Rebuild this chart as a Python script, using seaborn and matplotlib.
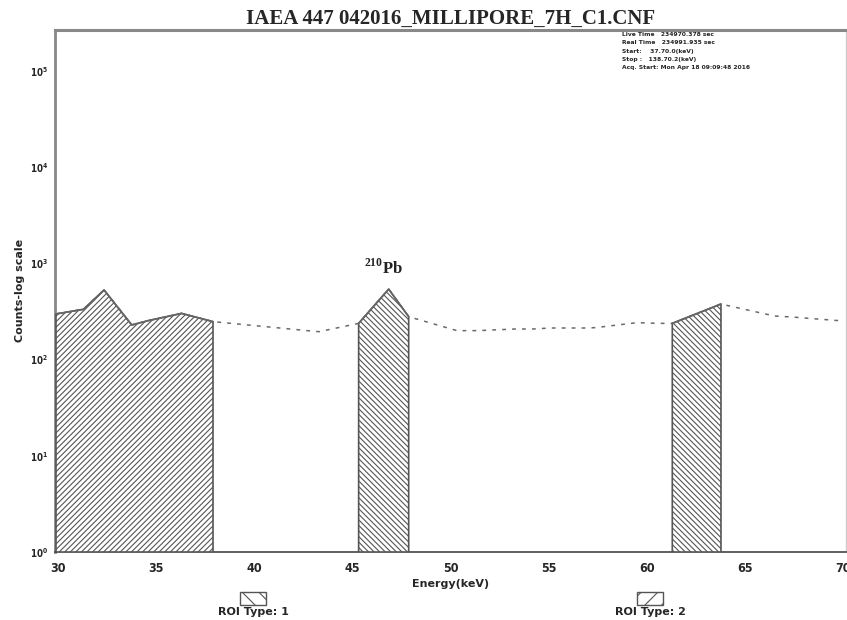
import numpy as np
import pandas as pd
import matplotlib
matplotlib.use("Agg")
import matplotlib.pyplot as plt
from matplotlib.patches import Rectangle
import seaborn as sns

# ---- data ----
energy = [29.9, 31.3, 32.35, 33.76, 34.6, 36.3, 37.9,
          42.7, 43.3, 45.32, 46.85, 47.87,
          50.33, 51.4, 53.3, 54.2, 55.1, 57.0, 57.4, 59.5, 60.6, 61.3,
          63.78, 66.5, 67.6, 68.5, 69.9]
counts = [298, 333, 529, 229, 254, 302, 248,
          200, 195, 238, 540, 279,
          200, 200, 208, 208, 213, 213, 215, 242, 238, 238,
          378, 284, 275, 266, 253]
roi_lo = [29.9, 45.32, 61.3]
roi_hi = [37.9, 47.87, 63.78]
roi_type = [2, 1, 1]
roi_hatch = {1: "\\" * 6, 2: "/" * 6}
title = "IAEA 447 042016_MILLIPORE_7H_C1.CNF"
info_lines = ["Live Time   234970.378 sec",
              "Real Time   234991.935 sec",
              "Start:    37.70.0(keV)",
              "Stop :   138.70.2(keV)",
              "Acq. Start: Mon Apr 18 09:09:48 2016"]
xticks = [30, 35, 40, 45, 50, 55, 60, 65, 70]
yticks = [1, 10, 100, 1000, 10000, 100000]
legend_labels = ["ROI Type: 1", "ROI Type: 2"]

sns.set_style("white")
plt.rcParams["font.family"] = ["DejaVu Sans"]
plt.rcParams["hatch.color"] = "#5a5a5a"
plt.rcParams["hatch.linewidth"] = 0.8
plt.rcParams["mathtext.fontset"] = "custom"
plt.rcParams["mathtext.bf"] = "Liberation Serif:bold"
plt.rcParams["mathtext.rm"] = "Liberation Serif:bold"

df = pd.DataFrame({"energy": energy, "counts": counts})

fig = plt.figure(figsize=(8.47, 6.2), dpi=100)
ax = fig.add_axes([55 / 847, 1 - 552 / 620, (846 - 55) / 847, (552 - 30) / 620])

sns.lineplot(data=df, x="energy", y="counts", ax=ax, color="#6a6a6a",
             linewidth=1.1, linestyle=(0, (2.5, 4)), sort=True, legend=False)

x = np.array(energy)
y = np.array(counts)
for lo, hi, t in zip(roi_lo, roi_hi, roi_type):
    m = (x >= lo - 1e-9) & (x <= hi + 1e-9)
    ax.fill_between(x[m], 1, y[m], facecolor="white", edgecolor="#555555",
                    hatch=roi_hatch[t], linewidth=1.2, zorder=3)
    ax.plot(x[m], y[m], color="#666666", lw=1.2, zorder=4)

ax.set_yscale("log")
ax.set_xlim(29.85, 70.15)
ax.set_ylim(1, 10 ** 5.426)
ax.set_xticks(xticks)
ax.set_xticks(np.arange(30, 71, 1), minor=True)
ax.set_yticks(yticks)
ax.yaxis.set_minor_locator(matplotlib.ticker.NullLocator())
ax.tick_params(axis="x", which="major", direction="inout", length=10,
               width=1, color="#333333", labelsize=9, pad=2)
ax.tick_params(axis="x", which="minor", direction="in", length=5,
               width=1, color="#333333")
ax.tick_params(axis="y", which="major", direction="inout", length=8,
               width=1, color="#333333", labelsize=7, pad=1)
for lab in ax.get_xticklabels() + ax.get_yticklabels():
    lab.set_fontweight("bold")
    lab.set_fontstretch("condensed")

ax.spines["left"].set_color("#888888")
ax.spines["left"].set_linewidth(2)
ax.spines["top"].set_color("#888888")
ax.spines["top"].set_linewidth(2.2)
ax.spines["bottom"].set_color("#444444")
ax.spines["bottom"].set_linewidth(1.2)
ax.spines["right"].set_color("#cccccc")
ax.spines["right"].set_linewidth(1)

ax.set_xlabel("")
ax.set_ylabel("")
fig.text(451 / 847, 1 - 584 / 620, "Energy(keV)", ha="center", va="center",
         fontsize=8, fontweight="bold")
fig.text(20 / 847, 1 - 290 / 620, "Counts-log scale", ha="center", va="center",
         rotation=90, fontsize=8, fontweight="bold")

fig.text(246 / 847, 1 - 19 / 620, title, ha="left", va="center",
         fontsize=15, fontweight="bold", family="Liberation Serif")

ax.text(46.6, 900, r"$^{210}$Pb", ha="center", va="center",
        fontsize=12, fontweight="bold", family="Liberation Serif",
        color="#222222", zorder=5)

for i, line in enumerate(info_lines):
    fig.text(622 / 847, 1 - (35 + i * 8) / 620, line, ha="left", va="center",
             fontsize=4.3, fontweight="bold")

# legend swatches below the axis
for (sx, tx, t, lab) in [(240, 253, 1, legend_labels[0]),
                         (637, 650, 2, legend_labels[1])]:
    r = Rectangle((sx / 847, 1 - 605 / 620), 26 / 847, 13 / 620,
                  transform=fig.transFigure, facecolor="white",
                  edgecolor="#555555", hatch=("\\\\" if t == 1 else "//"),
                  linewidth=1)
    fig.patches.append(r)
    fig.text(tx / 847, 1 - 612 / 620, lab, ha="center", va="center",
             fontsize=8, fontweight="bold")

fig.savefig("out.png", dpi=100)
